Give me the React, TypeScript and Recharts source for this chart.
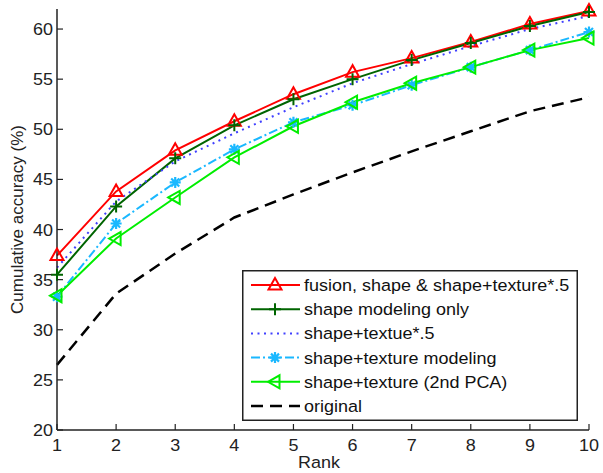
import React from "react"
import { LineChart, Line, XAxis, YAxis, Legend } from "recharts"

const ranks = [1, 2, 3, 4, 5, 6, 7, 8, 9, 10]
const fusion = [37.4, 43.8, 47.9, 50.8, 53.5, 55.7, 57.1, 58.7, 60.5, 61.8]
const shapeOnly = [35.5, 42.3, 47.1, 50.4, 53.0, 55.0, 56.9, 58.6, 60.3, 61.7]
const shapeTexHalf = [36.2, 42.8, 46.8, 49.6, 52.2, 54.6, 56.5, 58.3, 60.0, 61.3]
const shapeTexModel = [33.3, 40.6, 44.7, 48.0, 50.7, 52.4, 54.4, 56.2, 57.9, 59.7]
const shapeTexPca = [33.4, 39.1, 43.2, 47.2, 50.3, 52.7, 54.6, 56.2, 57.9, 59.1]
const original = [26.5, 33.6, 37.6, 41.2, 43.5, 45.7, 47.8, 49.8, 51.8, 53.2]
const yTicks = [20, 25, 30, 35, 40, 45, 50, 55, 60]

const data = ranks.map((r, i) => ({
  rank: r,
  fusion: fusion[i],
  shapeOnly: shapeOnly[i],
  shapeTexHalf: shapeTexHalf[i],
  shapeTexModel: shapeTexModel[i],
  shapeTexPca: shapeTexPca[i],
  original: original[i],
}))

const FONT = "'Liberation Sans', Arial, sans-serif"
const FS = 16.5
const AXIS = "#222"

// the source image is a bit wider than tall, text looks stretched sideways
const T = ({ x, y, anchor = "start", children, fill = AXIS }: any) => (
  <text transform={`translate(${x} ${y}) scale(1.09 1)`} textAnchor={anchor} fontSize={FS} fontFamily={FONT} fill={fill}>
    {children}
  </text>
)

const TriUp = ({ cx, cy }: any) => (
  <polygon points={`${cx},${cy - 7} ${cx - 6.5},${cy + 4.5} ${cx + 6.5},${cy + 4.5}`} fill="none" stroke="#ff0000" strokeWidth={2} />
)
const Plus = ({ cx, cy }: any) => (
  <path d={`M${cx - 6},${cy}H${cx + 6}M${cx},${cy - 6}V${cy + 6}`} stroke="#006400" strokeWidth={2} />
)
const Star = ({ cx, cy }: any) => (
  <path
    d={`M${cx - 5.5},${cy}H${cx + 5.5}M${cx},${cy - 5.5}V${cy + 5.5}M${cx - 4},${cy - 4}L${cx + 4},${cy + 4}M${cx - 4},${cy + 4}L${cx + 4},${cy - 4}`}
    stroke="#1ab8ff"
    strokeWidth={2.2}
  />
)
const TriLeft = ({ cx, cy }: any) => (
  <polygon points={`${cx - 7},${cy} ${cx + 4.5},${cy - 6.5} ${cx + 4.5},${cy + 6.5}`} fill="none" stroke="#00ee00" strokeWidth={2} />
)

const series = [
  { key: "fusion", name: "fusion, shape & shape+texture*.5", color: "#ff0000", dash: undefined, width: 2, Marker: TriUp },
  { key: "shapeOnly", name: "shape modeling only", color: "#006400", dash: undefined, width: 2, Marker: Plus },
  { key: "shapeTexHalf", name: "shape+textue*.5", color: "#4040ff", dash: "2 4.5", width: 2, Marker: null },
  { key: "shapeTexModel", name: "shape+texture modeling", color: "#1ab8ff", dash: "9 3 2 3", width: 2, Marker: Star },
  { key: "shapeTexPca", name: "shape+texture (2nd PCA)", color: "#00ee00", dash: undefined, width: 2, Marker: TriLeft },
  { key: "original", name: "original", color: "#000000", dash: "12 7", width: 2.5, Marker: null },
]

const BottomTick = ({ x, y, payload }: any) => (
  <g>
    <line x1={x} x2={x} y1={y} y2={y - 6} stroke={AXIS} strokeWidth={1.2} />
    <T x={x} y={y + 20.5} anchor="middle">{payload.value}</T>
  </g>
)
const TopTick = ({ x, y }: any) => <line x1={x} x2={x} y1={y} y2={y + 6} stroke={AXIS} strokeWidth={1.2} />
const LeftTick = ({ x, y, payload }: any) => (
  <g>
    <line x1={x} x2={x + 6} y1={y} y2={y} stroke={AXIS} strokeWidth={1.2} />
    <T x={x - 4} y={y + 6} anchor="end">{payload.value}</T>
  </g>
)
const RightTick = ({ x, y }: any) => <line x1={x} x2={x - 6} y1={y} y2={y} stroke={AXIS} strokeWidth={1.2} />

const LegendBox = () => (
  <svg width={336} height={151} style={{ display: "block" }}>
    <rect x={0.75} y={0.75} width={334.5} height={149.5} fill="#fff" stroke={AXIS} strokeWidth={1.5} />
    {series.map((s, i) => {
      const cy = 15 + i * 24.2
      const M = s.Marker
      return (
        <g key={s.key}>
          <line x1={9} x2={58} y1={cy} y2={cy} stroke={s.color} strokeWidth={s.width} strokeDasharray={s.dash} />
          {M && <M cx={33} cy={cy} />}
          <T x={62} y={cy + 6} fill="#111">{s.name}</T>
        </g>
      )
    })}
  </svg>
)

export default function App() {
  return (
    <div style={{ position: "absolute", left: 0, top: 0, background: "#fff" }}>
      <LineChart width={603} height={473} data={data} margin={{ top: 9, right: 14, bottom: 0, left: 0 }}>
        <XAxis
          dataKey="rank"
          type="number"
          domain={[1, 10]}
          ticks={ranks}
          height={43}
          tickSize={0}
          tickMargin={0}
          tickLine={false}
          tick={<BottomTick />}
          axisLine={{ stroke: AXIS, strokeWidth: 1.5 }}
          label={{
            content: ({ viewBox }: any) => (
              <T x={viewBox.x + viewBox.width / 2 - 4} y={viewBox.y + 38} anchor="middle">Rank</T>
            ),
          }}
        />
        <XAxis
          xAxisId="top"
          orientation="top"
          dataKey="rank"
          type="number"
          domain={[1, 10]}
          ticks={ranks}
          height={0}
          tickSize={0}
          tickMargin={0}
          tickLine={false}
          tick={<TopTick />}
          axisLine={{ stroke: AXIS, strokeWidth: 1.5 }}
        />
        <YAxis
          type="number"
          domain={[20, 62]}
          ticks={yTicks}
          width={57}
          tickSize={0}
          tickMargin={0}
          tickLine={false}
          tick={<LeftTick />}
          axisLine={{ stroke: AXIS, strokeWidth: 1.5 }}
          label={{
            content: ({ viewBox }: any) => {
              const cx = 17
              const cy = viewBox.y + viewBox.height / 2
              return (
                <text x={cx} y={cy} transform={`rotate(-90 ${cx} ${cy})`} textAnchor="middle" dominantBaseline="central" fontSize={17} fontFamily={FONT} fill={AXIS}>
                  Cumulative accuracy (%)
                </text>
              )
            },
          }}
        />
        <YAxis
          yAxisId="right"
          orientation="right"
          type="number"
          domain={[20, 62]}
          ticks={yTicks}
          width={0}
          tickSize={0}
          tickMargin={0}
          tickLine={false}
          tick={<RightTick />}
          axisLine={{ stroke: AXIS, strokeWidth: 1.5 }}
        />
        {series.map((s) => {
          const M = s.Marker
          return (
            <Line
              key={s.key}
              dataKey={s.key}
              name={s.name}
              stroke={s.color}
              strokeWidth={s.width}
              strokeDasharray={s.dash}
              isAnimationActive={false}
              dot={M ? (p: any) => <M key={`${s.key}-${p.index}`} cx={p.cx} cy={p.cy} /> : false}
              activeDot={false}
            />
          )
        })}
        <Legend
          layout="horizontal"
          verticalAlign="middle"
          align="center"
          content={() => <LegendBox />}
          wrapperStyle={{ left: 242, top: 270, width: 336, height: 151 }}
        />
      </LineChart>
    </div>
  )
}
